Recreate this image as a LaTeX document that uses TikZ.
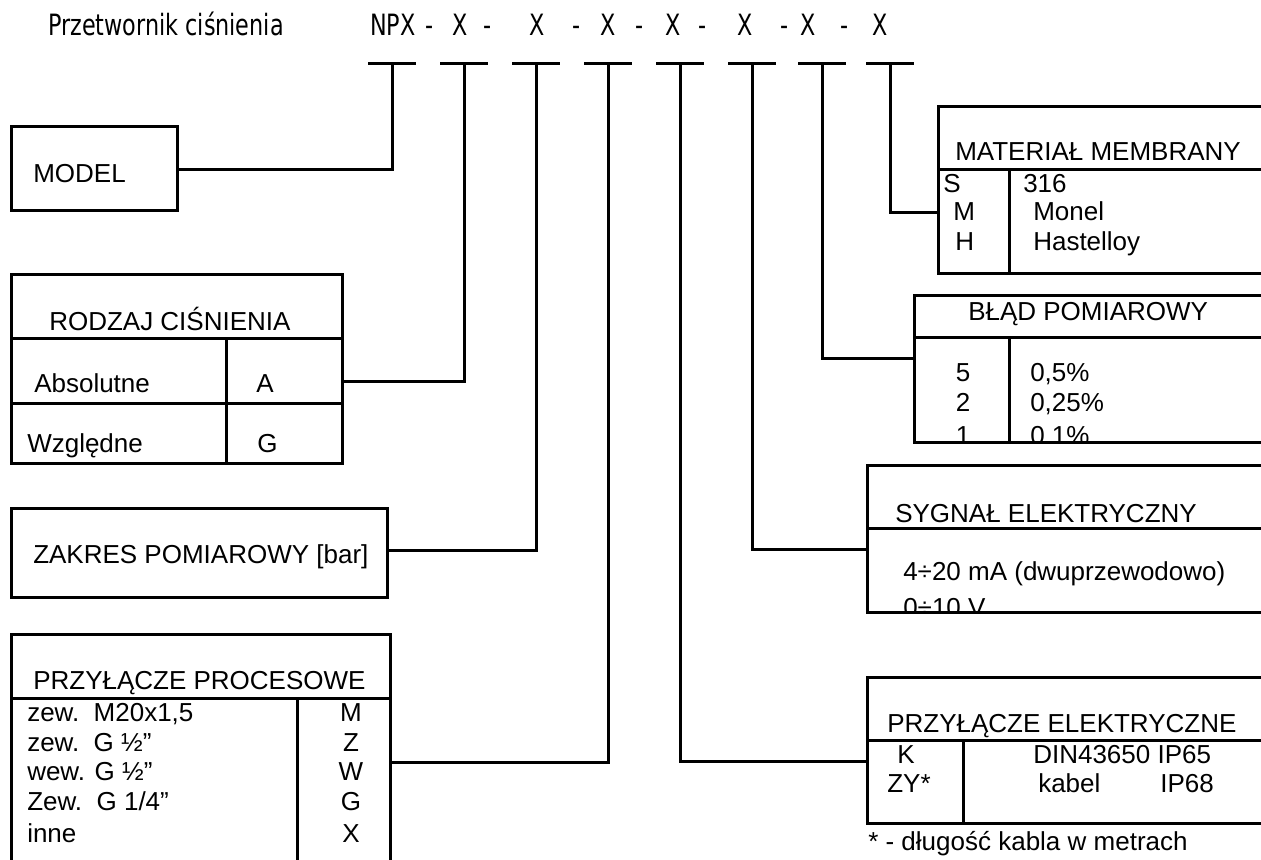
\documentclass[tikz,border=0pt]{standalone}
\usepackage{fontspec}
\setmainfont{Liberation Sans}
\newfontfamily\titlefont{DejaVu Sans}[FakeStretch=0.76]

\tikzset{
    ln/.style={line width=2.25pt},
    txt/.style={anchor=base west, inner sep=0pt, font=\fontsize{19.5}{23}\selectfont},
    code/.style={anchor=base, inner sep=0pt, font=\fontsize{19.5}{23}\selectfont},
    ttl/.style={anchor=base, inner sep=0pt, font=\titlefont\fontsize{22}{26}\selectfont},
}

\begin{document}
\begin{tikzpicture}[x=0.75pt, y=-0.75pt]
            \clip (0,0) rectangle (1261,860);

            % naglowek
            \node[ttl, anchor=base west] (name) at (48,36) {Przetwornik ciśnienia};
            \node[ttl, anchor=base west] (npx) at (370,36) {NPX};
            \foreach \xx [count=\i] in {460,537,608,673,745,808,880}
                \node[ttl] (x\i) at (\xx,36) {X};
            \foreach \xx [count=\i] in {430,488,577,640,703,785,845}
                \node[ttl] (d\i) at (\xx,36) {-};
            \foreach \xx [count=\i] in {392,464,536,608,680,752,822,890} {
                \coordinate (t\i) at (\xx,63);
                \draw[ln] ([xshift=-18pt]t\i) -- ([xshift=18pt]t\i);
            }

            % model
            \draw[ln] (11,126) rectangle (177,210);
            \node[txt] (model-t) at (33,182) {MODEL};
            \coordinate (model) at (177,169);

            % rodzaj cisnienia
            \draw[ln] (11,274) rectangle (342,463)
                (11,338) -- (342,338)
                (11,403) -- (342,403)
                (226,338) -- (226,465);
            \node[txt] (rodzaj-t) at (49,330) {RODZAJ CIŚNIENIA};
            \node[txt] (abs) at (34,392) {Absolutne};
            \node[txt] (abs-c) at (256,392) {A};
            \node[txt] (wzg) at (27,452) {Względne};
            \node[txt] (wzg-c) at (257,452) {G};
            \coordinate (rodzaj) at (342,381);

            % zakres
            \draw[ln] (11,508) rectangle (387,597);
            \node[txt] (zakres-t) at (33,563) {ZAKRES POMIAROWY [bar]};
            \coordinate (zakres) at (387,550);

            % przylacze procesowe
            \draw[ln] (11,875) |- (390,634) -- (390,875)
                (11,698) -- (390,698)
                (297,698) -- (297,875);
            \node[txt] (proc-t) at (33,689) {PRZYŁĄCZE PROCESOWE};
            \foreach \txt/\cd/\yy in {{zew.\ \ M20x1,5}/M/721, {zew.\ \ G ½”}/Z/751,
                    {wew. G ½”}/W/780, {Zew.\ \ G 1/4”}/G/810, inne/X/842} {
                \node[txt] at (27,\yy) {\txt};
                \node[code] at (351,\yy) {\cd};
            }
            \coordinate (proc) at (390,762);

            % material membrany
            \draw[ln] (1270,106) -| (938,273) -- (1270,273)
                (938,169) -- (1270,169)
                (1009,169) -- (1009,273);
            \node[txt] (mat-t) at (955,160) {MATERIAŁ MEMBRANY};
            \node[txt] (mat-s) at (943,192) {S};
            \node[txt] (mat-m) at (953,220) {M};
            \node[txt] (mat-h) at (955,250) {H};
            \node[txt] (mat-1) at (1023,192) {316};
            \node[txt] (mat-2) at (1033,220) {Monel};
            \node[txt] (mat-3) at (1033,250) {Hastelloy};
            \coordinate (mat) at (938,212);

            % blad pomiarowy
            \begin{scope}
                \clip (914,295) rectangle (1261,442);
                \node[txt] (blad-t) at (968,320) {BŁĄD POMIAROWY};
                \foreach \cd/\val/\yy in {5/{0,5\%}/381, 2/{0,25\%}/411, 1/{0,1\%}/444} {
                    \node[code] at (963,\yy) {\cd};
                    \node[txt] at (1030,\yy) {\val};
                }
            \end{scope}
            \draw[ln] (1270,295) -| (914,442) -- (1270,442)
                (914,337) -- (1270,337)
                (1009,337) -- (1009,442);
            \coordinate (blad) at (914,358);

            % sygnal elektryczny
            \begin{scope}
                \clip (867,465) rectangle (1261,612);
                \node[txt] (syg-t) at (895,522) {SYGNAŁ ELEKTRYCZNY};
                \node[txt] (syg-1) at (903,580) {4÷20 mA (dwuprzewodowo)};
                \node[txt] (syg-2) at (903,616) {0÷10 V};
            \end{scope}
            \draw[ln] (1270,465) -| (867,612) -- (1270,612)
                (867,528) -- (1270,528);
            \coordinate (syg) at (867,549);

            % przylacze elektryczne
            \draw[ln] (1270,677) -| (867,823) -- (1270,823)
                (867,740) -- (1270,740)
                (963,740) -- (963,823);
            \node[txt] (elek-t) at (887,732) {PRZYŁĄCZE ELEKTRYCZNE};
            \node[txt] (elek-k) at (897,763) {K};
            \node[txt] (elek-zy) at (887,792) {ZY*};
            \node[txt] (elek-1) at (1033,763) {DIN43650 IP65};
            \node[txt] (elek-2) at (1038,792) {kabel};
            \node[txt] (elek-3) at (1160,792) {IP68};
            \node[txt] (note) at (868,850) {* - długość kabla w metrach};
            \coordinate (elek) at (867,761);

            % polaczenia
            \draw[ln] (model) -| (t1);
            \draw[ln] (rodzaj) -| (t2);
            \draw[ln] (zakres) -| (t3);
            \draw[ln] (proc) -| (t4);
            \draw[ln] (elek) -| (t5);
            \draw[ln] (syg) -| (t6);
            \draw[ln] (blad) -| (t7);
            \draw[ln] (mat) -| (t8);
        \end{tikzpicture}
\end{document}
